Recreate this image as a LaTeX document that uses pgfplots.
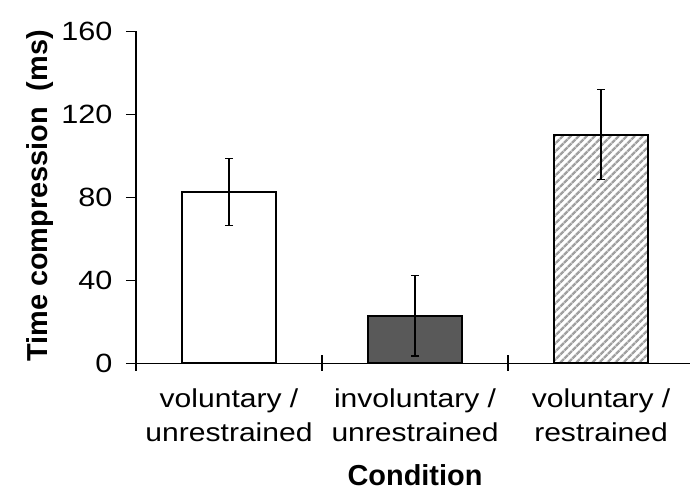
\documentclass[border=0pt]{standalone}
\usepackage{fontspec}
\setmainfont{Liberation Sans}
\newfontfamily\tickfont{Liberation Sans}[FakeStretch=1.16]
\usepackage{pgfplots}
\pgfplotsset{compat=1.18}
\usetikzlibrary{patterns.meta}
\definecolor{darkbar}{RGB}{89,89,89}
\definecolor{hatch}{RGB}{160,160,160}
\begin{document}
\begin{tikzpicture}
\useasboundingbox (0,0) rectangle (690bp,492bp);
\begin{axis}[
  at={(136bp,128.7bp)}, anchor=south west,
  scale only axis, width=554bp, height=331.8bp,
  xmin=-0.5, xmax=2.478, ymin=0, ymax=160,
  axis x line=bottom, axis y line=left,
  axis line style={-, line width=1.2bp, black},
  ytick={0,40,80,120,160},
  xtick={0,1,2},
  xticklabels={{voluntary /\\unrestrained},{involuntary /\\unrestrained},{voluntary /\\restrained}},
  x tick label style={align=center, font=\tickfont\fontsize{26}{33.7}\selectfont, yshift=-12bp},
  y tick label style={font=\tickfont\fontsize{26.5}{34}\selectfont, xshift=-10bp},
  /pgf/number format/assume math mode=true,
  tick align=outside,
  major tick length=10bp,
  tick style={line width=1.2bp, black},
  x tick style={draw=none},
  xlabel={Condition},
  ylabel={Time compression\ \ (ms)},
  every axis x label/.style={at={(axis description cs:0.5036,-0.3698)}, anchor=base, font=\fontsize{29}{34}\selectfont\bfseries},
  every axis y label/.style={at={(axis description cs:-0.1601,0.5045)}, rotate=90, anchor=base, font=\fontsize{29}{34}\selectfont\bfseries},
  clip=false,
]
\addplot[ybar, bar shift=0pt, bar width=94bp, draw=black, line width=2bp, fill=white,
  error bars/.cd, y dir=both, y explicit,
  error bar style={line width=1.2bp, black}, error mark options={rotate=90, line width=1.2bp, black, mark size=4bp}]
  coordinates {(0,82.6) +- (0,16.3)};
\addplot[ybar, bar shift=0pt, bar width=94bp, draw=black, line width=2bp, fill=darkbar,
  error bars/.cd, y dir=both, y explicit,
  error bar style={line width=1.2bp, black}, error mark options={rotate=90, line width=1.2bp, black, mark size=4bp}]
  coordinates {(1,22.9) +- (0,19.4)};
\addplot[ybar, bar shift=0pt, bar width=94bp, draw=black, line width=2bp,
  pattern={Lines[angle=45,distance=6bp,line width=2.8bp]}, pattern color=hatch,
  error bars/.cd, y dir=both, y explicit,
  error bar style={line width=1.2bp, black}, error mark options={rotate=90, line width=1.2bp, black, mark size=4bp}]
  coordinates {(2,110.3) +- (0,21.8)};
\draw[line width=1.2bp] (axis cs:-0.5,0) -- ++(0pt,-8bp);
\draw[line width=1.2bp] (axis cs:0.5,0) ++(0pt,8bp) -- ++(0pt,-16bp);
\draw[line width=1.2bp] (axis cs:1.5,0) ++(0pt,8bp) -- ++(0pt,-16bp);
\end{axis}
\end{tikzpicture}
\end{document}
